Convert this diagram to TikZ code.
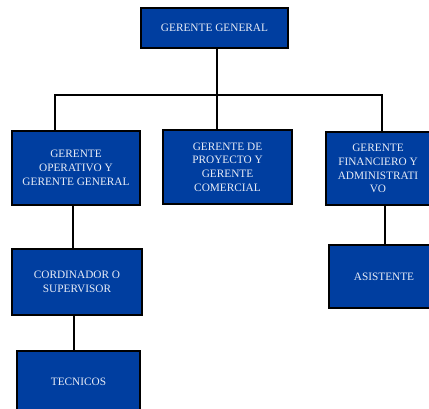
\documentclass[tikz,border=0pt]{standalone}
\usepackage{fontspec}
\setmainfont{Liberation Serif}
\definecolor{boxblue}{RGB}{0,62,160}
\definecolor{boxtext}{RGB}{232,236,246}
\begin{document}
\begin{tikzpicture}[x=1pt,y=-1pt,
  orgbox/.style={draw=black,line width=1.6pt,fill=boxblue,text=boxtext,
    font=\fontsize{11.3}{13.7}\selectfont,align=center,inner sep=0pt,
    rectangle},
  link/.style={draw=black,line width=1.8pt}]
\useasboundingbox (0,0) rectangle (429,409);
\clip (0,0) rectangle (429,409);
% boxes
\node[orgbox,minimum width=147pt,minimum height=40pt] (gg) at (214.5,28) {GERENTE GENERAL};
\node[orgbox,minimum width=128pt,minimum height=74pt] (op) at (76,168) {GERENTE\\OPERATIVO Y\\GERENTE GENERAL};
\node[orgbox,minimum width=129pt,minimum height=74pt] (pc) at (227.5,167) {GERENTE DE\\PROYECTO Y\\GERENTE\\COMERCIAL};
\node[orgbox,minimum width=104pt,minimum height=73pt] (fa) at (378,168.5) {GERENTE\\FINANCIERO Y\\ADMINISTRATI\\VO};
\node[orgbox,minimum width=130pt,minimum height=66pt] (co) at (77,282) {CORDINADOR O\\SUPERVISOR};
\node[orgbox,minimum width=123pt,minimum height=62pt] (te) at (78.5,382) {TECNICOS};
\node[orgbox,minimum width=110pt,minimum height=63pt] (as) at (384,276.5) {ASISTENTE};
% bus
\coordinate (bus) at (217,95);
\coordinate (busl) at (55,95);
\coordinate (busr) at (382,95);
\draw[link] (gg.south -| bus) -- (bus) -- (pc.north -| bus);
\draw[link] (op.north -| busl) -- (busl) -- (busr) -- (fa.north -| busr);
\draw[link] ([xshift=-3pt]op.south) -- ([xshift=-4pt]co.north);
\draw[link] ([xshift=-3pt]co.south) -- ([xshift=-4.5pt]te.north);
\draw[link] ([xshift=7pt]fa.south) -- ([xshift=1pt]as.north);
\end{tikzpicture}
\end{document}
